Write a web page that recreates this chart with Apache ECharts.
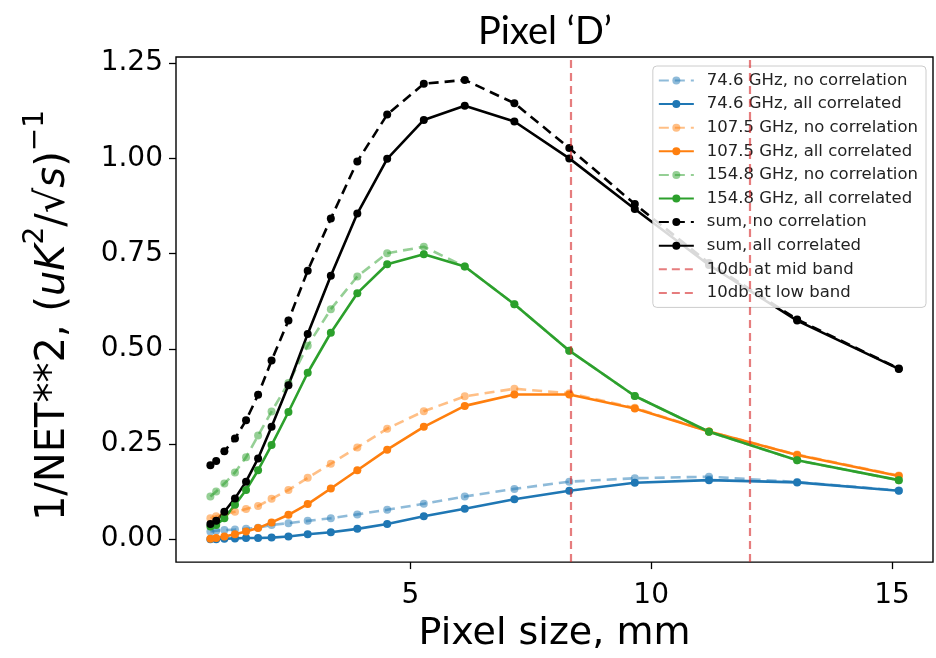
<!DOCTYPE html>
<html><head><meta charset="utf-8">
<script src="https://cdn.jsdelivr.net/npm/echarts@6/dist/echarts.min.js"></script>
<style>html,body{margin:0;padding:0;background:#fff}#c{width:936px;height:658px}</style>
</head><body><div id="c"></div>
<script>
const pixelSize = [0.85, 0.97, 1.14, 1.36, 1.59, 1.84, 2.12, 2.47, 2.87, 3.35, 3.90, 4.52, 5.28, 6.13, 7.16, 8.30, 9.66, 11.20, 13.03, 15.14];
const f746NoCorr = [0.020, 0.022, 0.024, 0.025, 0.027, 0.030, 0.037, 0.042, 0.048, 0.055, 0.065, 0.077, 0.093, 0.112, 0.132, 0.151, 0.160, 0.164, 0.150, 0.128];
const f746AllCorr = [0.000, 0.000, 0.001, 0.002, 0.003, 0.003, 0.004, 0.007, 0.013, 0.018, 0.027, 0.040, 0.060, 0.080, 0.105, 0.127, 0.148, 0.155, 0.149, 0.127];
const f1075NoCorr = [0.055, 0.060, 0.066, 0.072, 0.079, 0.087, 0.106, 0.129, 0.161, 0.198, 0.241, 0.290, 0.336, 0.375, 0.395, 0.383, 0.345, 0.283, 0.222, 0.167];
const f1075AllCorr = [0.001, 0.003, 0.007, 0.013, 0.020, 0.029, 0.044, 0.064, 0.092, 0.133, 0.181, 0.235, 0.295, 0.350, 0.380, 0.380, 0.343, 0.283, 0.221, 0.166];
const f1548NoCorr = [0.112, 0.125, 0.146, 0.175, 0.215, 0.272, 0.335, 0.410, 0.508, 0.604, 0.690, 0.751, 0.768, 0.716, 0.617, 0.495, 0.376, 0.282, 0.207, 0.155];
const f1548AllCorr = [0.033, 0.037, 0.055, 0.090, 0.129, 0.181, 0.247, 0.334, 0.437, 0.542, 0.646, 0.722, 0.748, 0.716, 0.617, 0.495, 0.376, 0.282, 0.207, 0.155];
const sumNoCorr = [0.194, 0.205, 0.231, 0.264, 0.312, 0.379, 0.469, 0.574, 0.705, 0.842, 0.992, 1.115, 1.196, 1.206, 1.145, 1.027, 0.880, 0.725, 0.577, 0.448];
const sumAllCorr = [0.040, 0.048, 0.072, 0.107, 0.151, 0.212, 0.295, 0.404, 0.539, 0.692, 0.855, 0.999, 1.101, 1.138, 1.097, 1.000, 0.867, 0.720, 0.574, 0.447];
const midBand10db = 8.34;
const lowBand10db = 12.05;
const xTicks = [5, 10, 15];
const yTicks = [0, 0.25, 0.5, 0.75, 1.0, 1.25];

const pair = ys => pixelSize.map((x, i) => [x, ys[i]]);
function mk(name, ys, color, dashed, faded) {
  return {
    name, type: 'line', data: pair(ys), symbol: 'circle', symbolSize: 8,
    lineStyle: { color, width: 2.6, type: dashed ? [10, 6] : 'solid', opacity: faded ? 0.5 : 1 },
    itemStyle: { color, opacity: faded ? 0.5 : 1 },
    emphasis: { disabled: true }, animation: false
  };
}
function vline(name, x) {
  return {
    name, type: 'line', data: [], symbol: 'none', showSymbol: false,
    lineStyle: { color: '#d62728', width: 2.2, type: [8, 5], opacity: 0.6 },
    itemStyle: { color: '#d62728', opacity: 0 },
    markLine: { symbol: 'none', silent: true, label: { show: false },
      lineStyle: { color: '#d62728', width: 2.2, type: [8, 5], opacity: 0.6 },
      data: [{ xAxis: x }] },
    animation: false
  };
}
const names = ['74.6 GHz, no correlation', '74.6 GHz, all correlated',
  '107.5 GHz, no correlation', '107.5 GHz, all correlated',
  '154.8 GHz, no correlation', '154.8 GHz, all correlated',
  'sum, no correlation', 'sum, all correlated',
  '10db at mid band', '10db at low band'];
const chart = echarts.init(document.getElementById('c'), null, { renderer: 'canvas' });
chart.setOption({
  backgroundColor: '#fff',
  animation: false,
  title: { text: 'Pixel \u2018D\u2019', left: 540, top: 8, textAlign: 'center',
    textStyle: { fontFamily: 'Lato', fontWeight: 'normal', fontSize: 38, color: '#000' } },
  grid: { left: 176, top: 57, right: 3, bottom: 94, show: true, borderColor: '#000', borderWidth: 1.4 },
  legend: {
    orient: 'vertical', right: 10, top: 66, padding: [6, 8, 6, 5],
    itemWidth: 35, itemHeight: 10, itemGap: 6.6,
    data: names.map((n, i) => i >= 8 ? { name: n, itemStyle: { opacity: 0 } } : n),
    backgroundColor: 'rgba(255,255,255,0.85)', borderColor: '#ccc', borderWidth: 1, borderRadius: 4,
    textStyle: { fontFamily: 'DejaVu Sans', fontSize: 16.5, lineHeight: 17, color: '#222', padding: [0, 0, 0, 8] }
  },
  xAxis: {
    type: 'value', min: 0.136, max: 15.85,
    name: 'Pixel size, mm', nameLocation: 'middle', nameGap: 52,
    nameTextStyle: { fontFamily: 'DejaVu Sans', fontSize: 38, color: '#000' },
    axisLine: { show: false, onZero: false },
    axisTick: { show: true, inside: false, length: 7, customValues: xTicks, lineStyle: { color: '#000', width: 1.3 } },
    axisLabel: { customValues: xTicks, fontFamily: 'DejaVu Sans', fontSize: 28, color: '#000', margin: 20 },
    splitLine: { show: false }
  },
  yAxis: {
    type: 'value', min: -0.0603, max: 1.2663,
    name: '{n|1/NET**2, (}{i|uK}{s|2}{n|/\u221A}{i|s}{n|)}{s|\u22121}',
    nameLocation: 'middle', nameGap: 102, nameRotate: 90,
    nameTextStyle: {
      padding: [0, 12, 0, 0],
      rich: {
        n: { fontFamily: 'DejaVu Sans', fontSize: 40, color: '#000', lineHeight: 52, verticalAlign: 'bottom' },
        i: { fontFamily: 'DejaVu Sans', fontStyle: 'italic', fontSize: 40, color: '#000', lineHeight: 52, verticalAlign: 'bottom' },
        s: { fontFamily: 'DejaVu Sans', fontSize: 28, color: '#000', lineHeight: 52, verticalAlign: 'top' }
      }
    },
    axisLine: { show: false, onZero: false },
    axisTick: { show: true, inside: false, length: 7, customValues: yTicks, lineStyle: { color: '#000', width: 1.3 } },
    axisLabel: { customValues: yTicks, fontFamily: 'DejaVu Sans', fontSize: 28, color: '#000', margin: 13,
      formatter: v => v.toFixed(2) },
    splitLine: { show: false }
  },
  series: [
    mk(names[0], f746NoCorr, '#1f77b4', true, true),
    mk(names[1], f746AllCorr, '#1f77b4', false, false),
    mk(names[2], f1075NoCorr, '#ff7f0e', true, true),
    mk(names[3], f1075AllCorr, '#ff7f0e', false, false),
    mk(names[4], f1548NoCorr, '#2ca02c', true, true),
    mk(names[5], f1548AllCorr, '#2ca02c', false, false),
    mk(names[6], sumNoCorr, '#000000', true, false),
    mk(names[7], sumAllCorr, '#000000', false, false),
    vline(names[8], midBand10db),
    vline(names[9], lowBand10db)
  ]
});
</script></body></html>
